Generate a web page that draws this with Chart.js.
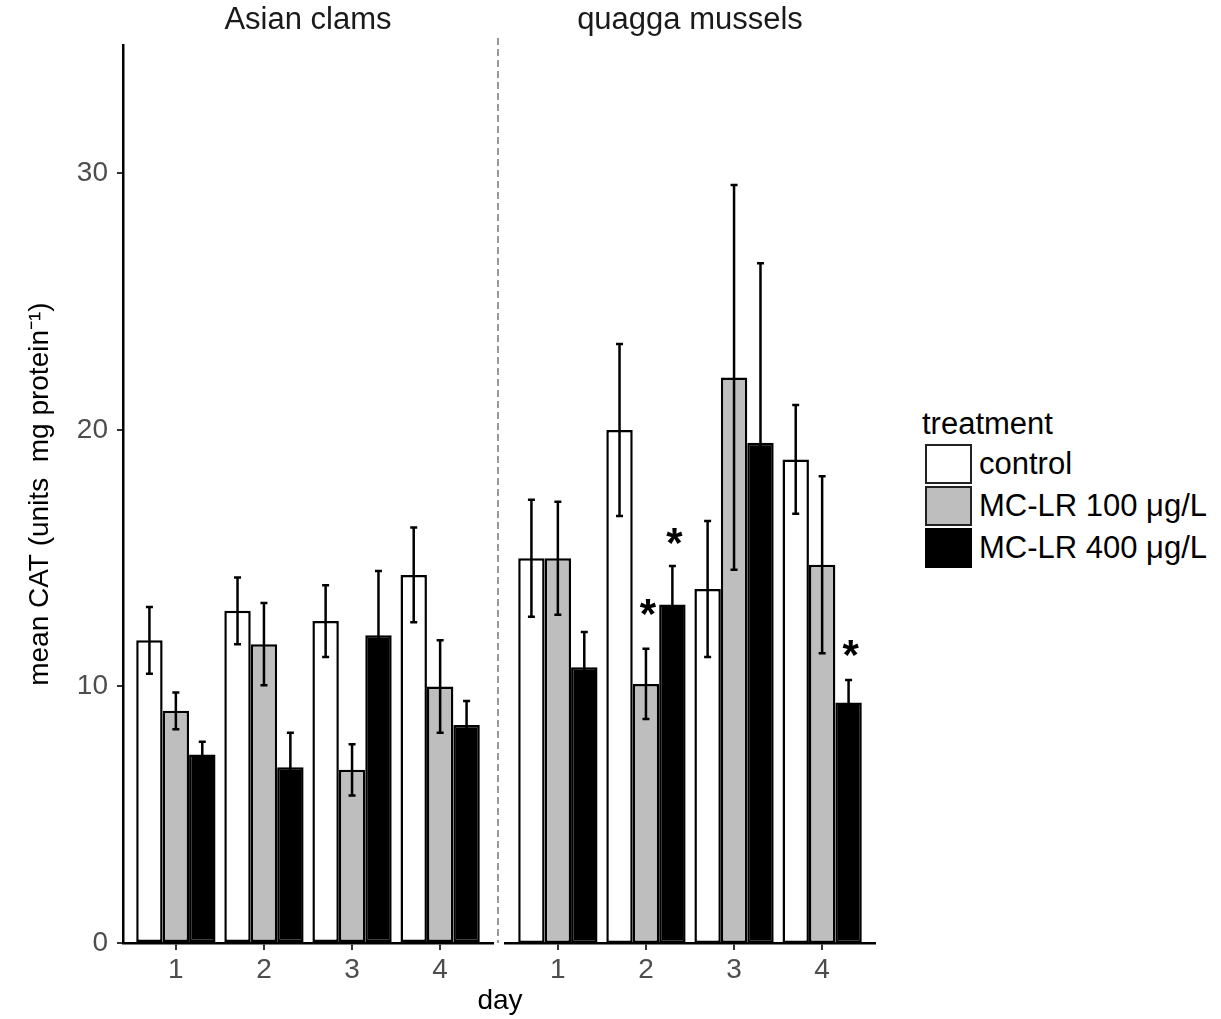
<!DOCTYPE html>
<html>
<head>
<meta charset="utf-8">
<script src="https://cdn.jsdelivr.net/npm/chart.js@4.4.1/dist/chart.umd.min.js"></script>
<style>
    body { margin: 0; background: #fff; font-family: "Liberation Sans", Arial, sans-serif; }
    #page { position: relative; width: 1221px; height: 1019px; overflow: hidden; }
    #leftChart { position: absolute; left: 0; top: 0; }
    #rightChart { position: absolute; left: 497px; top: 0; }
    #dayLabel { position: absolute; left: 400px; width: 200px; top: 984px; text-align: center; font-size: 28px; color: #000; }
    #legend { position: absolute; left: 922px; top: 405px; color: #000; }
    #legend .title { font-size: 31px; line-height: 38px; margin-left: 0; }
    #legend .row { display: flex; align-items: center; height: 42px; margin-left: 3px; }
    #legend .box { width: 47px; height: 40px; box-sizing: border-box; border: 2px solid #222; }
    #legend .label { font-size: 31px; margin-left: 7px; }
</style>
</head>
<body>
<div id="page">
    <canvas id="leftChart" width="497" height="1019"></canvas>
    <canvas id="rightChart" width="383" height="1019"></canvas>
    <div id="dayLabel">day</div>
    <div id="legend"></div>
</div>
<script>
// days on the x axis
const days = [1, 2, 3, 4];
const treatments = ['control', 'MC-LR 100 μg/L', 'MC-LR 400 μg/L'];
const fills = ['#ffffff', '#bebebe', '#000000'];

// Asian clams: means and error bars
const clamControl = [11.8, 12.95, 12.55, 14.35];
const clamControlErr = [1.3, 1.3, 1.4, 1.85];
const clamMC100 = [9.05, 11.65, 6.75, 10.0];
const clamMC100Err = [0.72, 1.6, 1.0, 1.8];
const clamMC400 = [7.35, 6.85, 12.0, 8.5];
const clamMC400Err = [0.5, 1.35, 2.5, 0.93];

// quagga mussels: means and error bars
const musselControl = [15.0, 20.0, 13.8, 18.85];
const musselControlErr = [2.28, 3.35, 2.65, 2.12];
const musselMC100 = [15.0, 10.1, 22.05, 14.75];
const musselMC100Err = [2.2, 1.37, 7.5, 3.45];
const musselMC400 = [10.75, 13.2, 19.5, 9.38];
const musselMC400Err = [1.37, 1.5, 7.0, 0.87];

// significance stars (y position of the star, null = none)
const musselMC100Star = [null, 13.1, null, null];
const musselMC400Star = [null, 15.85, null, 11.5];

const yTicks = [0, 10, 20, 30];
const font = '"Liberation Sans", Arial, sans-serif';

function makeDatasets(series, errs, stars) {
    return series.map((vals, k) => ({
        label: treatments[k],
        data: days.map((d, i) => ({ x: d, y: vals[i] })),
        err: errs[k],
        stars: stars ? stars[k] : null,
        backgroundColor: fills[k],
        borderColor: '#000',
        borderWidth: 2.5,
        borderSkipped: false,
        categoryPercentage: 0.9,
        barPercentage: 1.0
    }));
}

// error bars + asterisks drawn on top of bars
const errorBarPlugin = {
    id: 'errorBars',
    afterDatasetsDraw(chart) {
        const ctx = chart.ctx;
        const yScale = chart.scales.y;
        ctx.save();
        chart.data.datasets.forEach((ds, d) => {
            const meta = chart.getDatasetMeta(d);
            meta.data.forEach((bar, i) => {
                const v = ds.data[i].y;
                const e = ds.err[i];
                const yTop = yScale.getPixelForValue(v + e);
                const yBot = yScale.getPixelForValue(v - e);
                ctx.strokeStyle = '#000';
                ctx.lineWidth = 2.5;
                ctx.beginPath();
                ctx.moveTo(bar.x, yTop);
                ctx.lineTo(bar.x, yBot);
                ctx.moveTo(bar.x - 3.5, yTop);
                ctx.lineTo(bar.x + 3.5, yTop);
                ctx.moveTo(bar.x - 3.5, yBot);
                ctx.lineTo(bar.x + 3.5, yBot);
                ctx.stroke();
                if (ds.stars && ds.stars[i] != null) {
                    const sy = yScale.getPixelForValue(ds.stars[i]);
                    ctx.fillStyle = '#000';
                    ctx.font = 'bold 42px ' + font;
                    ctx.textAlign = 'center';
                    ctx.textBaseline = 'alphabetic';
                    ctx.fillText('*', bar.x + 2, sy + 0.5 * 42);
                }
            });
        });
        ctx.restore();
    }
};

const separatorPlugin = {
    id: 'separator',
    beforeDraw(chart) {
        const ctx = chart.ctx;
        ctx.save();
        ctx.strokeStyle = '#999';
        ctx.lineWidth = 2;
        ctx.setLineDash([7, 4]);
        ctx.beginPath();
        ctx.moveTo(1, 38);
        ctx.lineTo(1, chart.chartArea.bottom);
        ctx.stroke();
        ctx.restore();
    }
};

function xScale() {
    return {
        type: 'linear',
        min: 0.4,
        max: 4.6,
        offset: false,
        ticks: {
            stepSize: 1,
            includeBounds: false,
            font: { family: font, size: 28 },
            color: '#4d4d4d',
            padding: 3
        },
        grid: { offset: false, drawOnChartArea: false, drawTicks: true, tickLength: 7, color: '#333', lineWidth: 2 },
        border: { display: true, color: '#000', width: 2.5 },
        afterFit(scale) { scale.height = 76; }
    };
}

function panelTitle(text) {
    return {
        display: true,
        text: text,
        fullSize: false,
        font: { family: font, size: 31, weight: 'normal' },
        color: '#1a1a1a',
        padding: { top: 2, bottom: 6 }
    };
}

new Chart(document.getElementById('leftChart'), {
    type: 'bar',
    data: {
        datasets: makeDatasets([clamControl, clamMC100, clamMC400],
                               [clamControlErr, clamMC100Err, clamMC400Err], null)
    },
    options: {
        responsive: false,
        animation: false,
        layout: { padding: { left: 0, right: 4, top: 0, bottom: 0 } },
        plugins: {
            legend: { display: false },
            tooltip: { enabled: false },
            title: panelTitle('Asian clams')
        },
        scales: {
            x: xScale(),
            y: {
                min: 0,
                max: 35,
                afterBuildTicks(scale) { scale.ticks = yTicks.map(v => ({ value: v })); },
                ticks: { font: { family: font, size: 28 }, color: '#4d4d4d', padding: 9 },
                grid: { drawOnChartArea: false, drawTicks: true, tickLength: 6, color: '#333', lineWidth: 2 },
                border: { display: true, color: '#000', width: 2.5 },
                title: {
                    display: true,
                    text: 'mean CAT (units  mg protein⁻¹)',
                    font: { family: font, size: 28 },
                    color: '#000',
                    padding: { top: 23, bottom: 0 }
                },
                afterFit(scale) { scale.width = 123; }
            }
        }
    },
    plugins: [errorBarPlugin]
});

new Chart(document.getElementById('rightChart'), {
    type: 'bar',
    data: {
        datasets: makeDatasets([musselControl, musselMC100, musselMC400],
                               [musselControlErr, musselMC100Err, musselMC400Err],
                               [null, musselMC100Star, musselMC400Star])
    },
    options: {
        responsive: false,
        animation: false,
        layout: { padding: { left: 8, right: 5, top: 0, bottom: 0 } },
        plugins: {
            legend: { display: false },
            tooltip: { enabled: false },
            title: panelTitle('quagga mussels')
        },
        scales: {
            x: xScale(),
            y: { display: false, min: 0, max: 35 }
        }
    },
    plugins: [errorBarPlugin, separatorPlugin]
});

// legend built from the treatment arrays
const legend = document.getElementById('legend');
const lt = document.createElement('div');
lt.className = 'title';
lt.textContent = 'treatment';
legend.appendChild(lt);
treatments.forEach((t, k) => {
    const row = document.createElement('div');
    row.className = 'row';
    const box = document.createElement('div');
    box.className = 'box';
    box.style.background = fills[k];
    if (k === 2) box.style.borderColor = '#000';
    const lab = document.createElement('span');
    lab.className = 'label';
    lab.textContent = t;
    row.appendChild(box);
    row.appendChild(lab);
    legend.appendChild(row);
});
</script>
</body>
</html>
